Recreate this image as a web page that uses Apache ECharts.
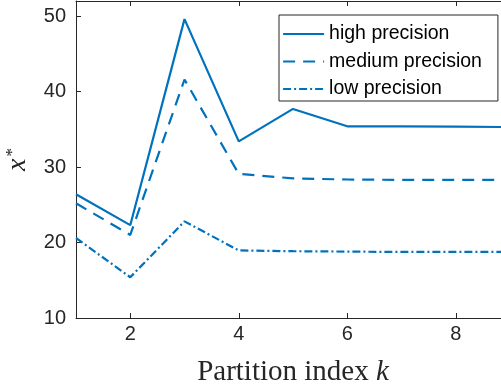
<!DOCTYPE html>
<html>
<head>
<meta charset="utf-8">
<title>Partition index</title>
<script src="https://cdn.jsdelivr.net/npm/echarts@6/dist/echarts.min.js"></script>
<style>
  html, body { margin: 0; padding: 0; background: #fff; }
  #chart { width: 501px; height: 387px; }
</style>
</head>
<body>
<div id="chart"></div>
<script>
// Partition index k and the optimal value x* for each precision level
const kValues = [1, 2, 3, 4, 5, 6, 7, 8, 9];
const highPrecision   = [26.4, 22.3, 49.6, 33.4, 37.7, 35.4, 35.4, 35.35, 35.3];
const mediumPrecision = [25.2, 21.0, 41.6, 29.1, 28.5, 28.35, 28.3, 28.3, 28.3];
const lowPrecision    = [20.6, 15.4, 22.8, 18.95, 18.85, 18.8, 18.75, 18.75, 18.75];

const xTicks = [2, 4, 6, 8];
const yTicks = [10, 20, 30, 40, 50];

const seriesNames = ['high precision', 'medium precision', 'low precision'];

const BLUE = '#0072BD';
const AXIS = '#262626';
const SANS = '"Liberation Sans", Arial, Helvetica, sans-serif';
const SERIF = '"Liberation Serif", "Times New Roman", serif';

function pairs(ys) {
  return kValues.map((k, i) => [k, ys[i]]);
}

function lineSeries(name, ys, dash) {
  return {
    name: name,
    type: 'line',
    data: pairs(ys),
    showSymbol: false,
    symbol: 'none',
    lineStyle: { color: BLUE, width: 2.2, type: dash },
    itemStyle: { color: BLUE },
    emphasis: { disabled: true },
    z: 3
  };
}

const chart = echarts.init(document.getElementById('chart'), null, { renderer: 'canvas' });

chart.setOption({
  animation: false,
  backgroundColor: '#ffffff',
  grid: { left: 76, top: 1, width: 434, bottom: 69, containLabel: false, outerBoundsMode: 'none' },
  legend: {
    orient: 'vertical',
    left: 279,
    top: 15,
    data: seriesNames,
    backgroundColor: '#ffffff',
    borderColor: AXIS,
    borderWidth: 1,
    padding: [9, 16, 2, 3],
    itemWidth: 41,
    itemHeight: 14,
    itemGap: 7.5,
    itemStyle: { opacity: 0 },
    lineStyle: { width: 2.2 },
    textStyle: { fontFamily: SANS, fontSize: 19.5, color: '#000', lineHeight: 20 }
  },
  xAxis: [
    {
      type: 'value',
      min: 1,
      max: 9,
      position: 'bottom',
      name: '{t|Partition index }{k|k}',
      nameLocation: 'middle',
      nameGap: 40,
      nameTextStyle: {
        rich: {
          t: { fontFamily: SERIF, fontSize: 29, color: '#262626' },
          k: { fontFamily: SERIF, fontSize: 29, fontStyle: 'italic', color: '#262626' }
        }
      },
      axisLine: { show: true, onZero: false, lineStyle: { color: AXIS, width: 1 } },
      axisTick: { show: true, inside: true, length: 5, customValues: xTicks, lineStyle: { color: AXIS } },
      axisLabel: { customValues: xTicks, margin: 6, fontFamily: SANS, fontSize: 20, color: AXIS },
      splitLine: { show: false }
    },
    {
      type: 'value',
      min: 1,
      max: 9,
      position: 'top',
      axisLine: { show: true, onZero: false, lineStyle: { color: AXIS, width: 1 } },
      axisTick: { show: true, inside: true, length: 5, customValues: xTicks, lineStyle: { color: AXIS } },
      axisLabel: { show: false },
      splitLine: { show: false }
    }
  ],
  yAxis: [
    {
      type: 'value',
      min: 10,
      max: 52,
      position: 'left',
      name: '{x|x}{s|*}',
      nameLocation: 'middle',
      nameRotate: 90,
      nameGap: 44,
      nameTextStyle: {
        rich: {
          x: { fontFamily: SERIF, fontSize: 28, fontStyle: 'italic', color: '#262626', lineHeight: 28 },
          s: { fontFamily: SERIF, fontSize: 17, color: '#262626', verticalAlign: 'top', lineHeight: 28, padding: [0, 0, 0, 2] }
        }
      },
      axisLine: { show: true, onZero: false, lineStyle: { color: AXIS, width: 1 } },
      axisTick: { show: true, inside: true, length: 5, customValues: yTicks, lineStyle: { color: AXIS } },
      axisLabel: { customValues: yTicks, margin: 10, fontFamily: SANS, fontSize: 20, color: AXIS },
      splitLine: { show: false }
    }
  ],
  series: [
    lineSeries(seriesNames[0], highPrecision, 'solid'),
    lineSeries(seriesNames[1], mediumPrecision, [12, 8]),
    lineSeries(seriesNames[2], lowPrecision, [8, 3, 2, 3])
  ]
});
</script>
</body>
</html>
